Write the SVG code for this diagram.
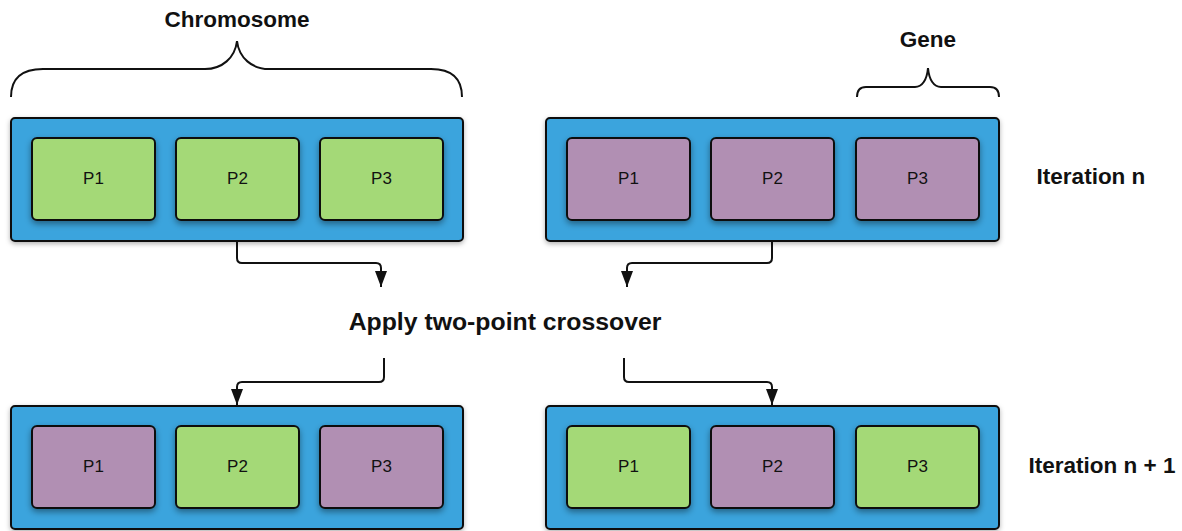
<svg xmlns="http://www.w3.org/2000/svg" width="1182" height="531" viewBox="0 0 1182 531">
<defs>
<style>
.cont{fill:#3AA4DD;stroke:#111;stroke-width:2;filter:url(#sh1)}
.g{fill:#A4D977;stroke:#111;stroke-width:2;filter:url(#sh2)}
.p{fill:#B18FB3;stroke:#111;stroke-width:2;filter:url(#sh2)}
.pl{font-family:"Liberation Sans",Arial,sans-serif;font-size:17px;fill:#111;text-anchor:middle}
.lbl{font-family:"Liberation Sans",Arial,sans-serif;font-weight:bold;font-size:22.5px;fill:#111;text-anchor:middle}
.conn{fill:none;stroke:#111;stroke-width:2}
.brace{fill:none;stroke:#111;stroke-width:2}
</style>
<filter id="sh1" x="-5%" y="-10%" width="110%" height="130%">
<feDropShadow dx="0" dy="2" stdDeviation="2.5" flood-color="#000" flood-opacity="0.3"/>
</filter>
<filter id="sh2" x="-10%" y="-10%" width="120%" height="135%">
<feDropShadow dx="0" dy="3" stdDeviation="3" flood-color="#000" flood-opacity="0.4"/>
</filter>
<marker id="arr" markerUnits="userSpaceOnUse" markerWidth="16" markerHeight="12" viewBox="0 0 16 12" refX="16" refY="6" orient="auto">
<path d="M0,0 L16,6 L0,12 z" fill="#111"/>
</marker>
</defs>
<rect width="1182" height="531" fill="#fff"/>

<g id="braces">
<path class="brace" d="M11,97 C11,80 20,69 43,69 L205,69 C222,69 235,58 237,41 C239,58 252,69 269,69 L431,69 C454,69 462,80 462,97"/>
<path class="brace" d="M857,97 C857,91 860,87 866,87 L915,87 C922,87 927,80 928,68 C929,80 934,87 941,87 L990,87 C996,87 999,91 999,97"/>
</g>

<g id="labels">
<text class="lbl" x="237" y="27">Chromosome</text>
<text class="lbl" x="928" y="47">Gene</text>
<text class="lbl" x="1091" y="184">Iteration n</text>
<text class="lbl" x="1102" y="473">Iteration n + 1</text>
<text class="lbl" x="505" y="330" style="font-size:24.8px">Apply two-point crossover</text>
</g>

<g id="connectors">
<path class="conn" marker-end="url(#arr)" d="M237,241 V258 Q237,263 242,263 H376 Q381,263 381,268 V287"/>
<path class="conn" marker-end="url(#arr)" d="M772,241 V258 Q772,263 767,263 H632 Q627,263 627,268 V287"/>
<path class="conn" marker-end="url(#arr)" d="M384,358 V377 Q384,382 379,382 H242 Q237,382 237,387 V405"/>
<path class="conn" marker-end="url(#arr)" d="M624,358 V377 Q624,382 629,382 H767 Q772,382 772,387 V405"/>
</g>

<g id="chrom-top-left">
<rect class="cont" x="11" y="118" width="452" height="123" rx="4"/>
<rect class="g" x="32" y="138" width="123" height="82" rx="5"/>
<rect class="g" x="176" y="138" width="123" height="82" rx="5"/>
<rect class="g" x="320" y="138" width="123" height="82" rx="5"/>
<text class="pl" x="93.5" y="184">P1</text>
<text class="pl" x="237.5" y="184">P2</text>
<text class="pl" x="381.5" y="184">P3</text>
</g>

<g id="chrom-top-right">
<rect class="cont" x="546" y="118" width="453" height="123" rx="4"/>
<rect class="p" x="567" y="138" width="123" height="82" rx="5"/>
<rect class="p" x="711" y="138" width="123" height="82" rx="5"/>
<rect class="p" x="856" y="138" width="123" height="82" rx="5"/>
<text class="pl" x="628.5" y="184">P1</text>
<text class="pl" x="772.5" y="184">P2</text>
<text class="pl" x="917.5" y="184">P3</text>
</g>

<g id="chrom-bottom-left">
<rect class="cont" x="11" y="406" width="452" height="123" rx="4"/>
<rect class="p" x="32" y="426" width="123" height="82" rx="5"/>
<rect class="g" x="176" y="426" width="123" height="82" rx="5"/>
<rect class="p" x="320" y="426" width="123" height="82" rx="5"/>
<text class="pl" x="93.5" y="472">P1</text>
<text class="pl" x="237.5" y="472">P2</text>
<text class="pl" x="381.5" y="472">P3</text>
</g>

<g id="chrom-bottom-right">
<rect class="cont" x="546" y="406" width="453" height="123" rx="4"/>
<rect class="g" x="567" y="426" width="123" height="82" rx="5"/>
<rect class="p" x="711" y="426" width="123" height="82" rx="5"/>
<rect class="g" x="856" y="426" width="123" height="82" rx="5"/>
<text class="pl" x="628.5" y="472">P1</text>
<text class="pl" x="772.5" y="472">P2</text>
<text class="pl" x="917.5" y="472">P3</text>
</g>
</svg>
